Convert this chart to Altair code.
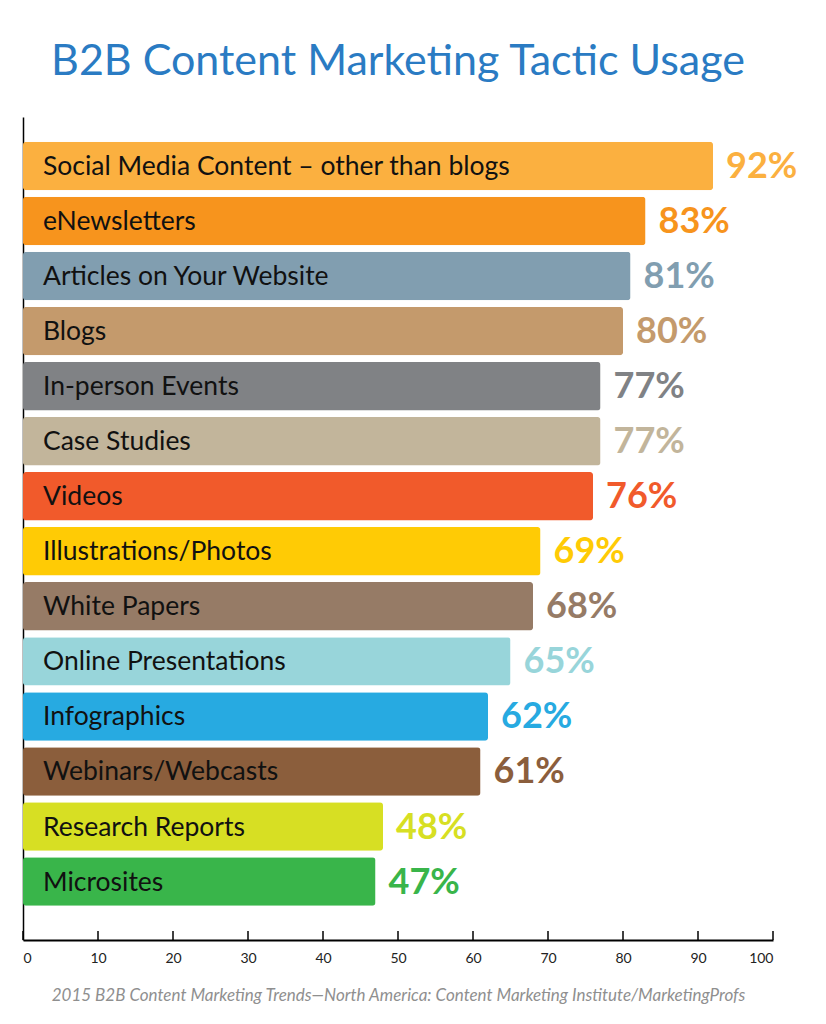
import altair as alt
import pandas as pd

categories = [
    "Social Media Content – other than blogs",
    "eNewsletters",
    "Articles on Your Website",
    "Blogs",
    "In-person Events",
    "Case Studies",
    "Videos",
    "Illustrations/Photos",
    "White Papers",
    "Online Presentations",
    "Infographics",
    "Webinars/Webcasts",
    "Research Reports",
    "Microsites",
]
values = [92, 83, 81, 80, 77, 77, 76, 69, 68, 65, 62, 61, 48, 47]
colors = [
    "#FBB040", "#F7941D", "#819EB0", "#C49A6C", "#808285", "#C2B59B",
    "#F15A2B", "#FFCB05", "#967B66", "#98D5DA", "#27AAE1", "#8B5E3C",
    "#D7DF23", "#39B54A",
]
tick_values = [0, 10, 20, 30, 40, 50, 60, 70, 80, 90, 100]

title_text = "B2B Content Marketing Tactic Usage"
source_text = "2015 B2B Content Marketing Trends—North America: Content Marketing Institute/MarketingProfs"

df = pd.DataFrame({
    "tactic": categories,
    "value": values,
    "label": [f"{v}%" for v in values],
})
ticks_df = pd.DataFrame({"t": tick_values})

W, H = 750, 823
FONT = "Lato"

x_scale = alt.Scale(domain=[0, 100], nice=False)
y_scale = alt.Scale(domain=categories, paddingInner=0.12, paddingOuter=0.536, align=0.42)
color_scale = alt.Scale(domain=categories, range=colors)

x_axis = alt.Axis(
    values=tick_values, ticks=False, grid=False, domainColor="#000000",
    domainWidth=2, labelFont=FONT, labelFontSize=14, labelColor="#222222",
    labelPadding=11, title=source_text, titleFont=FONT, titleFontStyle="italic",
    titleFontWeight="normal", titleFontSize=17, titleColor="#8f8f8f",
    titlePadding=22,
)
y_axis = alt.Axis(labels=False, ticks=False, grid=False, title=None,
                  domainColor="#000000", domainWidth=1.5)

base = alt.Chart(df)

bars = base.mark_bar(cornerRadius=3).encode(
    x=alt.X("value:Q", scale=x_scale, axis=x_axis),
    y=alt.Y("tactic:N", scale=y_scale, axis=y_axis, sort=categories),
    color=alt.Color("tactic:N", scale=color_scale, legend=None),
)

inner = base.mark_text(align="left", baseline="middle", dx=20, dy=1,
                       font=FONT, fontSize=26.5, color="#111111").encode(
    x=alt.datum(0, scale=x_scale),
    y=alt.Y("tactic:N", sort=categories),
    text="tactic:N",
)

vals = base.mark_text(align="left", baseline="middle", dx=13, dy=1,
                      font=FONT, fontSize=36, fontWeight="bold").encode(
    x="value:Q",
    y=alt.Y("tactic:N", sort=categories),
    text="label:N",
    color=alt.Color("tactic:N", scale=color_scale, legend=None),
)

tick_rules = alt.Chart(ticks_df).mark_rule(color="#000000", strokeWidth=1.5).encode(
    x=alt.X("t:Q", scale=x_scale),
    y=alt.value(H - 9),
    y2=alt.value(H),
)

chart = alt.layer(bars, inner, vals, tick_rules).properties(
    width=W, height=H,
    background="white",
    title=alt.TitleParams(title_text, font=FONT, fontSize=43, fontWeight="normal",
                          color="#2A7BC3", anchor="middle", offset=33),
    autosize=alt.AutoSizeParams(type="none"),
    padding={"left": 15, "top": 109, "right": 45, "bottom": 76},
).configure_view(strokeWidth=0, stroke="transparent")

chart.save("out.html", embed_options={"renderer": "svg", "actions": False})
